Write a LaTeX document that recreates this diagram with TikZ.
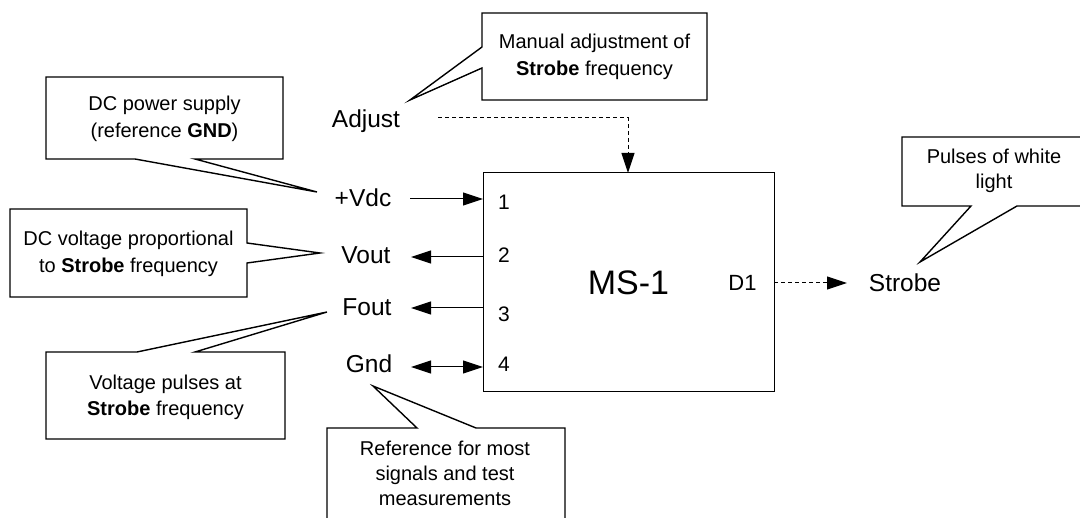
\documentclass[tikz,border=0pt]{standalone}
\usepackage{fontspec}
\setmainfont{Liberation Sans}
\usetikzlibrary{arrows.meta}
\begin{document}
\begin{tikzpicture}[x=1pt,y=-1pt,
  callout/.style={draw=black, line width=1.4pt, line join=miter, fill=white},
  ctext/.style={align=center, inner sep=0pt, font=\fontsize{20}{26.5}\selectfont},
  lbl/.style={anchor=base, inner sep=0pt, font=\fontsize{24.5}{29}\selectfont},
  pin/.style={anchor=base, inner sep=0pt, font=\fontsize{21}{25}\selectfont},
  wire/.style={line width=1pt, -{Triangle[length=20pt,width=13pt]}},
  dwire/.style={wire, dash pattern=on 4pt off 3pt},
  blk/.style={draw=black, line width=1pt, minimum width=291pt, minimum height=219pt, inner sep=0pt, font=\fontsize{34}{40}\selectfont}]
\useasboundingbox (0,0) rectangle (1080,518);
\clip (0,0) rectangle (1080,518);

% main block
\node[blk] (ms) at (628.5,282.5) {MS-1};

% pin labels
\node[pin] (n1) at (504,210) {1};
\node[pin] (n2) at (504,263) {2};
\node[pin] (n3) at (504,321.5) {3};
\node[pin] (n4) at (504,372) {4};
\node[pin,font=\fontsize{22}{26}\selectfont] (d1) at (742.5,290.5) {D1};

% signal labels
\node[lbl] (adj) at (366,128) {Adjust};
\node[lbl] (vdc) at (363,207) {+Vdc};
\node[lbl] (vout) at (366,264) {Vout};
\node[lbl] (fout) at (367,316) {Fout};
\node[lbl] (gnd) at (369,373) {Gnd};
\node[lbl] (strobe) at (905,292) {Strobe};

% connector end points
\coordinate (adjR) at (438,118);
\coordinate (adjT) at (628,173);
\coordinate (vdcR) at (410,199);
\coordinate (p1) at (483,199);
\coordinate (voutR) at (411,257);
\coordinate (p2) at (483,257);
\coordinate (foutR) at (411,308);
\coordinate (p3) at (483,308);
\coordinate (gndR) at (411,367);
\coordinate (p4) at (483,367);
\coordinate (d1R) at (774,283);
\coordinate (strL) at (847,283);

% connectors
\draw[wire] (vdcR) -- (p1);
\draw[wire] (p2) -- (voutR);
\draw[wire] (p3) -- (foutR);
\draw[wire, {Triangle[length=20pt,width=13pt]}-{Triangle[length=20pt,width=13pt]}] (gndR) -- (p4);
\draw[dwire] (adjR) -| (adjT);
\draw[dwire] (d1R) -- (strL);

% callouts
\draw[callout] (482,13) -- (707,13) -- (707,100) -- (482,100) -- (482,68) -- (410,100) -- (482,47) -- cycle;
\node[ctext] (ca) at (594.5,57) {Manual adjustment of\\\textbf{Strobe} frequency};

\draw[callout] (46,77) -- (283,77) -- (283,159) -- (195,159) -- (317,192) -- (135,159) -- (46,159) -- cycle;
\node[ctext] (cb) at (164.5,119) {DC power supply\\(reference \textbf{GND})};

\draw[callout] (10,209) -- (247,209) -- (247,243) -- (320,253) -- (247,263) -- (247,297) -- (10,297) -- cycle;
\node[ctext] (cc) at (128.5,254) {DC voltage proportional\\to \textbf{Strobe} frequency};

\draw[callout] (46,352) -- (137,352) -- (327,312) -- (195,352) -- (285,352) -- (285,439) -- (46,439) -- cycle;
\node[ctext] (cd) at (165.5,397.5) {Voltage pulses at\\\textbf{Strobe} frequency};

\draw[callout] (327,540) -- (327,428) -- (417,428) -- (373,386) -- (476,428) -- (565,428) -- (565,540);
\node[ctext, font=\fontsize{20}{25}\selectfont] (ce) at (445,473) {Reference for most\\signals and test\\measurements};

\draw[callout] (902,137) -- (1090,137) -- (1090,206) -- (1017,206) -- (920,262) -- (971,206) -- (902,206) -- cycle;
\node[ctext, font=\fontsize{20}{25}\selectfont] (cf) at (994,170.5) {Pulses of white\\light};
\end{tikzpicture}
\end{document}
